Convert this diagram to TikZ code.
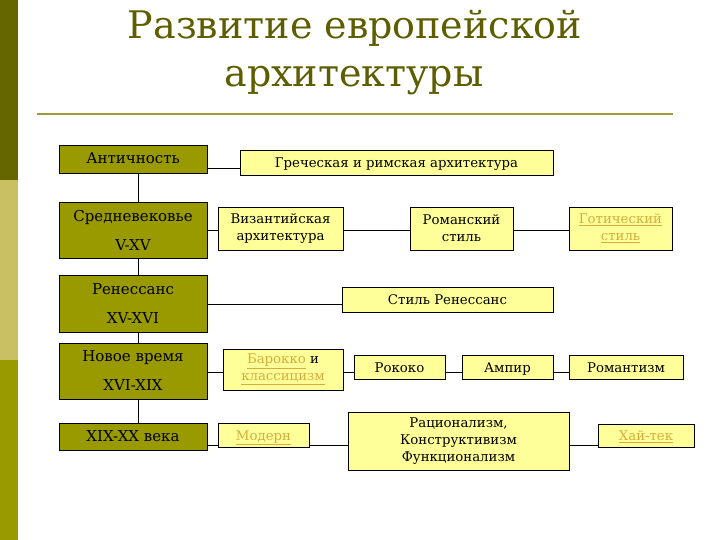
\documentclass[tikz,border=0pt]{standalone}
\usepackage{fontspec}
\setmainfont{DejaVu Serif}
\definecolor{bardark}{HTML}{666600}
\definecolor{barlight}{HTML}{C8C062}
\definecolor{barmid}{HTML}{999900}
\definecolor{erafill}{HTML}{999900}
\definecolor{stylefill}{HTML}{FFFF99}
\definecolor{titlecol}{HTML}{5E5E00}
\definecolor{rulecol}{HTML}{A09A3C}
\definecolor{linkcol}{HTML}{D4AE3C}
\newcommand{\lnk}[1]{\textcolor{linkcol}{\underline{#1}}}

\tikzset{
  era/.style={draw=black, fill=erafill, minimum width=148pt, inner sep=0pt,
    align=center, font=\fontsize{15}{29}\selectfont},
  stylebox/.style={draw=black, fill=stylefill, inner sep=0pt, align=center,
    font=\fontsize{13.3}{17}\selectfont},
  oneline/.style={text height=13pt, text depth=3pt}
}

\begin{document}
\begin{tikzpicture}[x=1pt,y=-1pt]
  \useasboundingbox (0,0) rectangle (720,540);
  % side bar
  \fill[bardark] (0,0) rectangle (18,180);
  \fill[barlight] (0,180) rectangle (18,360);
  \fill[barmid] (0,360) rectangle (18,540);

  % title
  \node[anchor=base, text=titlecol, font=\fontsize{38}{48}\selectfont] (title1) at (355,39) {Развитие европейской};
  \node[anchor=base, text=titlecol, font=\fontsize{38}{48}\selectfont] (title2) at (354,87) {архитектуры};
  \draw[rulecol, line width=2pt] (37,114) -- (673,114);

  % epochs
  \node[era, oneline, minimum height=28pt] (ant) at (133,159) {Античность};
  \node[era, minimum height=56pt] (mid) at (133,230) {Средневековье\\V-XV};
  \node[era, minimum height=57pt] (ren) at (133,303.5) {Ренессанс\\XV-XVI};
  \node[era, minimum height=56pt] (new) at (133,371) {Новое время\\XVI-XIX};
  \node[era, oneline, minimum height=27pt] (xx) at (133,436.5) {XIX-XX века};

  % styles
  \node[stylebox, oneline, minimum width=313pt, minimum height=25pt] (greek) at (396.5,162.5) {Греческая и римская архитектура};
  \node[stylebox, minimum width=125pt, minimum height=43pt] (byz) at (280.5,228.5) {Византийская\\архитектура};
  \node[stylebox, minimum width=103pt, minimum height=43pt] (rom) at (461.5,228.5) {Романский\\стиль};
  \node[stylebox, minimum width=103pt, minimum height=43pt] (goth) at (620.5,228.5) {\lnk{Готический}\\\lnk{стиль}};
  \node[stylebox, oneline, minimum width=211pt, minimum height=25pt] (renstyle) at (447.5,299.5) {Стиль Ренессанс};
  \node[stylebox, minimum width=120pt, minimum height=41pt] (baroque) at (283,369.5) {\lnk{Барокко} и\\\lnk{классицизм}};
  \node[stylebox, oneline, minimum width=91pt, minimum height=24pt] (rococo) at (399.5,367) {Рококо};
  \node[stylebox, oneline, minimum width=91pt, minimum height=24pt] (empire) at (507.5,367) {Ампир};
  \node[stylebox, oneline, minimum width=114pt, minimum height=24pt] (romant) at (626,367) {Романтизм};
  \node[stylebox, oneline, minimum width=91pt, minimum height=24pt] (modern) at (263.5,435) {\lnk{Модерн}};
  \node[stylebox, minimum width=221pt, minimum height=58pt] (ration) at (458.5,441) {Рационализм,\\Конструктивизм\\Функционализм};
  \node[stylebox, oneline, minimum width=96pt, minimum height=23pt] (hitech) at (646,435.5) {\lnk{Хай-тек}};

  % rows
  \coordinate (spine) at (138,0);
  \coordinate (row1) at (0,168);
  \coordinate (row2) at (0,230);
  \coordinate (row3) at (0,304);
  \coordinate (row4) at (0,372);
  \coordinate (row5) at (0,445);

  \draw (ant.south -| spine) -- (mid.north -| spine);
  \draw (mid.south -| spine) -- (ren.north -| spine);
  \draw (ren.south -| spine) -- (new.north -| spine);
  \draw (new.south -| spine) -- (xx.north -| spine);

  \draw (ant.east |- row1) -- (greek.west |- row1);
  \draw (mid.east |- row2) -- (byz.west |- row2);
  \draw (byz.east |- row2) -- (rom.west |- row2);
  \draw (rom.east |- row2) -- (goth.west |- row2);
  \draw (ren.east |- row3) -- (renstyle.west |- row3);
  \draw (new.east |- row4) -- (baroque.west |- row4);
  \draw (baroque.east |- row4) -- (rococo.west |- row4);
  \draw (rococo.east |- row4) -- (empire.west |- row4);
  \draw (empire.east |- row4) -- (romant.west |- row4);
  \draw (xx.east |- row5) -- (modern.west |- row5);
  \draw (modern.east |- row5) -- (ration.west |- row5);
  \draw (ration.east |- row5) -- (hitech.west |- row5);
\end{tikzpicture}
\end{document}
